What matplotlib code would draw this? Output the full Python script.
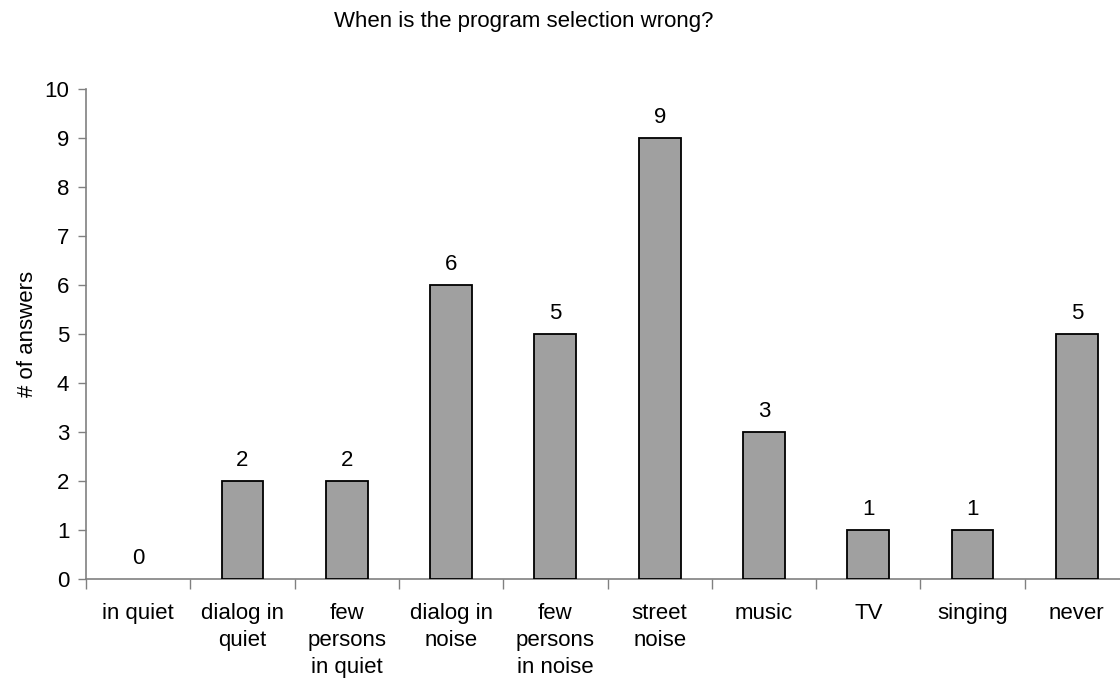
import matplotlib
matplotlib.use("Agg")
import matplotlib.pyplot as plt
import numpy as np

categories = ["in quiet", "dialog in\nquiet", "few\npersons\nin quiet", "dialog in\nnoise",
              "few\npersons\nin noise", "street\nnoise", "music", "TV", "singing", "never"]
answers = [0, 2, 2, 6, 5, 9, 3, 1, 1, 5]
y_ticks = [0, 1, 2, 3, 4, 5, 6, 7, 8, 9, 10]

plt.rcParams["font.family"] = ["Liberation Sans", "DejaVu Sans"]
FS = 16

fig = plt.figure(figsize=(11.2, 6.79), dpi=100)
ax = fig.add_axes([86 / 1120, 100 / 679, 1043 / 1120, 490 / 679])

x = np.arange(len(categories))
edge_widths = [1.3 if v > 0 else 0 for v in answers]
ax.bar(x, answers, width=0.4, color="#a0a0a0", edgecolor="black",
       linewidth=edge_widths, zorder=3)

for xi, v in zip(x, answers):
    ax.annotate(str(v), (xi, v), xytext=(0, 7), textcoords="offset points",
                ha="center", va="bottom", fontsize=FS)

ax.set_xlim(-0.5, len(categories) - 0.5)
ax.set_ylim(0, 10)
ax.set_yticks(y_ticks)
ax.tick_params(axis="y", labelsize=FS, direction="out", length=6, width=1, color="#808080", pad=6)

ax.set_xticks(x)
ax.set_xticklabels(categories, fontsize=FS, linespacing=1.38, va="top")
ax.tick_params(axis="x", which="major", length=0, pad=17)
ax.set_xticks(np.arange(len(categories) + 1) - 0.5, minor=True)
ax.tick_params(axis="x", which="minor", direction="out", length=7, width=1, color="#808080")

for side in ("top", "right"):
    ax.spines[side].set_visible(False)
for side in ("left", "bottom"):
    ax.spines[side].set_color("#808080")
    ax.spines[side].set_linewidth(1.2)

ax.set_ylabel("# of answers", fontsize=FS, labelpad=5)

fig.text(524 / 1120, 1 - 22 / 679, "When is the program selection wrong?",
         ha="center", va="center", fontsize=FS)

fig.savefig("out.png", dpi=100)
